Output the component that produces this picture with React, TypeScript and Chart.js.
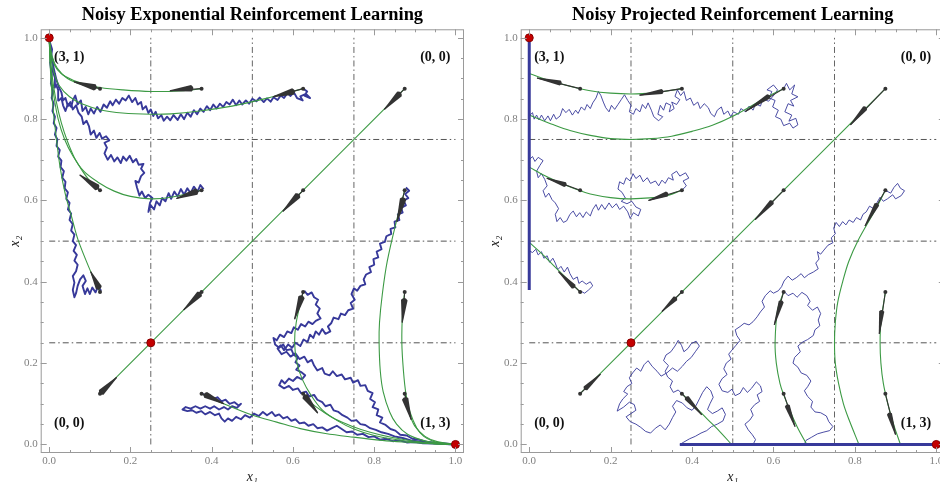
import { useEffect, useRef } from "react";
import { Chart, registerables } from "chart.js";

Chart.register(...registerables);

const FONT = "'Liberation Serif', 'Times New Roman', serif";
const BLUE = "#37399a";
const GREEN = "#3c9a44";
const DARK = "#333333";

// ---------- ticks ----------
const tickMajor = [0, 0.2, 0.4, 0.6, 0.8, 1.0];
const tickMinor = [0.05, 0.1, 0.15, 0.25, 0.3, 0.35, 0.45, 0.5, 0.55, 0.65, 0.7, 0.75, 0.85, 0.9, 0.95];
const guideLevels = [0.25, 0.5, 0.75];

// ---------- equilibria (red) ----------
const eqX = [0, 1, 0.25];
const eqY = [1, 0, 0.25];

// ---------- corner labels ----------
const cornerText = ["(3, 1)", "(0, 0)", "(0, 0)", "(1, 3)"];
const cornerX = [0.012, 0.913, 0.012, 0.913];
const cornerY = [0.953, 0.953, 0.052, 0.052];

// ---------- deterministic curves, left (exponential) ----------
const diag = [0.125, 0.125, 0.875, 0.875];
const gL1 = [0.375,0.875, 0.33,0.87, 0.25,0.868, 0.18,0.872, 0.125,0.878, 0.08,0.888, 0.04,0.905, 0.02,0.922, 0.008,0.945, 0.002,0.97, 0,1];
const gL2 = [0.625,0.875, 0.55,0.855, 0.45,0.832, 0.37,0.82, 0.3,0.813, 0.25,0.812, 0.18,0.815, 0.13,0.822, 0.08,0.838, 0.05,0.855, 0.025,0.882, 0.01,0.92, 0.003,0.96, 0,1];
const gL3 = [0.375,0.625, 0.3,0.608, 0.25,0.604, 0.2,0.61, 0.16,0.623, 0.12,0.645, 0.085,0.672, 0.058,0.71, 0.038,0.75, 0.022,0.8, 0.011,0.86, 0.004,0.92, 0,1];
const gL4 = [0.125,0.375, 0.1,0.43, 0.071,0.503, 0.055,0.56, 0.039,0.618, 0.027,0.68, 0.018,0.749, 0.01,0.82, 0.006,0.871, 0.002,0.94, 0,1];
const gL5 = [0.125,0.625, 0.1,0.648, 0.08,0.675, 0.062,0.705, 0.045,0.745, 0.03,0.79, 0.017,0.845, 0.008,0.9, 0.002,0.95, 0,1];
const gL6 = [0.125,0.875, 0.08,0.885, 0.045,0.9, 0.02,0.925, 0.007,0.955, 0,1];
const gL1m = [0.875,0.375, 0.87,0.33, 0.868,0.25, 0.872,0.18, 0.878,0.125, 0.888,0.08, 0.905,0.04, 0.922,0.02, 0.945,0.008, 0.97,0.002, 1,0];
const gL2m = [0.875,0.625, 0.855,0.55, 0.832,0.45, 0.82,0.37, 0.813,0.3, 0.812,0.25, 0.815,0.18, 0.822,0.13, 0.838,0.08, 0.855,0.05, 0.882,0.025, 0.92,0.01, 0.96,0.003, 1,0];
const gL3m = [0.625,0.375, 0.608,0.3, 0.604,0.25, 0.61,0.2, 0.623,0.16, 0.645,0.12, 0.672,0.085, 0.71,0.058, 0.75,0.038, 0.8,0.022, 0.86,0.011, 0.92,0.004, 1,0];
const gL4m = [0.375,0.125, 0.43,0.1, 0.503,0.071, 0.56,0.055, 0.618,0.039, 0.68,0.027, 0.749,0.018, 0.82,0.01, 0.871,0.006, 0.94,0.002, 1,0];
const gL5m = [0.625,0.125, 0.648,0.1, 0.675,0.08, 0.705,0.062, 0.745,0.045, 0.79,0.03, 0.845,0.017, 0.9,0.008, 0.95,0.002, 1,0];
const gL6m = [0.875,0.125, 0.885,0.08, 0.9,0.045, 0.925,0.02, 0.955,0.007, 1,0];

// ---------- deterministic curves, right (projected) ----------
const gR1 = [0.375,0.875, 0.3,0.864, 0.25,0.862, 0.2,0.864, 0.15,0.87, 0.1,0.881, 0.05,0.895, 0,0.912];
const gR2 = [0.625,0.875, 0.58,0.852, 0.5,0.807, 0.45,0.785, 0.4,0.77, 0.35,0.758, 0.3,0.752, 0.25,0.75, 0.2,0.752, 0.15,0.76, 0.1,0.772, 0.06,0.786, 0,0.81];
const gR3 = [0.375,0.625, 0.33,0.61, 0.25,0.604, 0.2,0.607, 0.15,0.616, 0.125,0.624, 0.08,0.642, 0.04,0.66, 0,0.682];
const gR4 = [0.125,0.375, 0.09,0.41, 0.06,0.44, 0.03,0.47, 0,0.497];
const gR1m = [0.875,0.375, 0.864,0.3, 0.862,0.25, 0.864,0.2, 0.87,0.15, 0.881,0.1, 0.895,0.05, 0.912,0];
const gR2m = [0.875,0.625, 0.852,0.58, 0.807,0.5, 0.785,0.45, 0.77,0.4, 0.758,0.35, 0.752,0.3, 0.75,0.25, 0.752,0.2, 0.76,0.15, 0.772,0.1, 0.786,0.06, 0.81,0];
const gR3m = [0.625,0.375, 0.61,0.33, 0.604,0.25, 0.607,0.2, 0.616,0.15, 0.624,0.125, 0.642,0.08, 0.66,0.04, 0.682,0];
const gR4m = [0.375,0.125, 0.41,0.09, 0.44,0.06, 0.47,0.03, 0.497,0];

// boundary segments (projected dynamics)
const edgeLeft = [0, 0.38, 0, 1];
const edgeBottom = [0.37, 0, 1, 0];

// ---------- noisy paths, left ----------
const nLA = [0.625,0.875, 0.635,0.868, 0.628,0.858, 0.642,0.852, 0.632,0.862, 0.618,0.856, 0.624,0.846, 0.61,0.852, 0.602,0.866, 0.594,0.857, 0.586,0.864, 0.578,0.852, 0.57,0.858, 0.562,0.847, 0.552,0.854, 0.545,0.843, 0.536,0.851, 0.528,0.842, 0.518,0.853, 0.51,0.844, 0.5,0.85, 0.492,0.838, 0.484,0.846, 0.475,0.836, 0.468,0.846, 0.46,0.834, 0.452,0.848, 0.444,0.836, 0.436,0.842, 0.428,0.83, 0.42,0.838, 0.412,0.826, 0.404,0.836, 0.396,0.822, 0.388,0.832, 0.38,0.818, 0.372,0.826, 0.364,0.812, 0.356,0.822, 0.348,0.806, 0.34,0.816, 0.332,0.8, 0.324,0.812, 0.316,0.798, 0.306,0.81, 0.298,0.797, 0.29,0.806, 0.282,0.796, 0.276,0.81, 0.268,0.802, 0.262,0.818, 0.256,0.808, 0.25,0.824, 0.244,0.815, 0.238,0.832, 0.23,0.824, 0.226,0.842, 0.218,0.836, 0.212,0.852, 0.204,0.842, 0.196,0.858, 0.188,0.846, 0.18,0.852, 0.172,0.838, 0.164,0.848, 0.156,0.834, 0.15,0.844, 0.142,0.828, 0.134,0.836, 0.126,0.818, 0.118,0.83, 0.11,0.814, 0.102,0.826, 0.096,0.812, 0.09,0.83, 0.082,0.82, 0.078,0.846, 0.07,0.836, 0.064,0.858, 0.058,0.846, 0.054,0.83, 0.046,0.838, 0.04,0.82, 0.034,0.834, 0.03,0.852, 0.024,0.846, 0.022,0.872, 0.016,0.886, 0.012,0.878, 0.014,0.902, 0.008,0.92, 0.011,0.938, 0.005,0.955, 0.007,0.972, 0.002,0.988, 0,1];
const nLB = [0.38,0.628, 0.372,0.638, 0.365,0.622, 0.356,0.634, 0.348,0.618, 0.34,0.63, 0.332,0.614, 0.324,0.628, 0.316,0.61, 0.308,0.622, 0.3,0.604, 0.294,0.618, 0.286,0.598, 0.278,0.606, 0.272,0.588, 0.264,0.598, 0.258,0.578, 0.25,0.588, 0.244,0.572, 0.248,0.594, 0.254,0.606, 0.244,0.614, 0.236,0.606, 0.228,0.622, 0.222,0.612, 0.216,0.632, 0.212,0.648, 0.22,0.644, 0.226,0.66, 0.234,0.668, 0.226,0.678, 0.232,0.69, 0.22,0.688, 0.214,0.702, 0.206,0.694, 0.198,0.71, 0.19,0.698, 0.182,0.708, 0.176,0.692, 0.168,0.706, 0.16,0.696, 0.152,0.712, 0.144,0.7, 0.136,0.716, 0.142,0.73, 0.136,0.742, 0.148,0.748, 0.14,0.758, 0.13,0.752, 0.124,0.766, 0.116,0.754, 0.11,0.772, 0.102,0.762, 0.098,0.782, 0.092,0.796, 0.084,0.788, 0.08,0.806, 0.072,0.816, 0.066,0.834, 0.058,0.824, 0.052,0.842, 0.046,0.832, 0.04,0.852, 0.034,0.846, 0.03,0.866, 0.024,0.878, 0.018,0.896, 0.014,0.912, 0.01,0.93, 0.006,0.948, 0.003,0.972, 0,1];
const nLC = [0.128,0.378, 0.12,0.388, 0.114,0.374, 0.106,0.386, 0.1,0.37, 0.094,0.384, 0.088,0.37, 0.082,0.39, 0.09,0.402, 0.084,0.416, 0.076,0.406, 0.07,0.39, 0.066,0.372, 0.062,0.362, 0.058,0.38, 0.062,0.398, 0.058,0.414, 0.066,0.426, 0.07,0.442, 0.062,0.452, 0.068,0.466, 0.06,0.476, 0.066,0.49, 0.058,0.5, 0.062,0.516, 0.054,0.526, 0.058,0.542, 0.05,0.552, 0.054,0.568, 0.046,0.578, 0.05,0.594, 0.042,0.604, 0.046,0.62, 0.038,0.63, 0.04,0.646, 0.032,0.656, 0.036,0.672, 0.028,0.682, 0.03,0.698, 0.022,0.708, 0.026,0.724, 0.018,0.734, 0.02,0.75, 0.014,0.762, 0.018,0.778, 0.011,0.79, 0.014,0.806, 0.008,0.82, 0.011,0.838, 0.006,0.852, 0.009,0.87, 0.004,0.888, 0.006,0.91, 0.002,0.94, 0.003,0.97, 0,1];
const nLD = [0.878,0.632, 0.886,0.624, 0.876,0.616, 0.884,0.606, 0.872,0.6, 0.878,0.588, 0.866,0.582, 0.87,0.57, 0.858,0.566, 0.862,0.552, 0.85,0.548, 0.852,0.534, 0.84,0.53, 0.842,0.518, 0.83,0.512, 0.826,0.498, 0.814,0.494, 0.818,0.48, 0.806,0.474, 0.81,0.46, 0.798,0.456, 0.8,0.442, 0.788,0.436, 0.792,0.424, 0.78,0.418, 0.774,0.406, 0.778,0.394, 0.766,0.39, 0.758,0.378, 0.75,0.384, 0.744,0.37, 0.752,0.356, 0.742,0.348, 0.748,0.334, 0.736,0.33, 0.728,0.318, 0.718,0.322, 0.712,0.308, 0.7,0.312, 0.694,0.298, 0.686,0.29, 0.692,0.278, 0.68,0.272, 0.672,0.284, 0.664,0.27, 0.656,0.278, 0.65,0.262, 0.642,0.27, 0.636,0.252, 0.626,0.258, 0.618,0.242, 0.606,0.25, 0.598,0.238, 0.588,0.246, 0.578,0.232, 0.57,0.244, 0.562,0.236, 0.572,0.222, 0.584,0.228, 0.594,0.216, 0.606,0.224, 0.616,0.21, 0.628,0.216, 0.636,0.202, 0.646,0.208, 0.652,0.194, 0.66,0.182, 0.672,0.188, 0.678,0.174, 0.69,0.17, 0.698,0.18, 0.708,0.168, 0.72,0.172, 0.728,0.16, 0.742,0.164, 0.748,0.152, 0.76,0.158, 0.766,0.144, 0.778,0.146, 0.784,0.132, 0.796,0.126, 0.79,0.112, 0.802,0.104, 0.796,0.092, 0.81,0.086, 0.806,0.072, 0.82,0.066, 0.814,0.054, 0.828,0.048, 0.84,0.038, 0.852,0.034, 0.864,0.024, 0.88,0.022, 0.894,0.014, 0.91,0.012, 0.93,0.006, 0.955,0.004, 0.98,0.002, 1,0];
const nLE = [0.628,0.378, 0.636,0.368, 0.646,0.374, 0.652,0.362, 0.662,0.356, 0.656,0.344, 0.666,0.334, 0.66,0.322, 0.668,0.31, 0.656,0.304, 0.648,0.296, 0.638,0.302, 0.63,0.29, 0.62,0.296, 0.612,0.282, 0.602,0.288, 0.596,0.274, 0.586,0.278, 0.578,0.264, 0.568,0.27, 0.56,0.256, 0.552,0.262, 0.556,0.246, 0.566,0.238, 0.576,0.246, 0.584,0.232, 0.596,0.234, 0.602,0.22, 0.612,0.214, 0.606,0.202, 0.616,0.194, 0.608,0.184, 0.62,0.178, 0.63,0.17, 0.622,0.16, 0.61,0.166, 0.6,0.156, 0.59,0.162, 0.58,0.15, 0.572,0.158, 0.566,0.146, 0.578,0.138, 0.59,0.144, 0.6,0.134, 0.612,0.138, 0.62,0.126, 0.632,0.13, 0.64,0.118, 0.652,0.122, 0.66,0.11, 0.672,0.104, 0.68,0.094, 0.692,0.098, 0.7,0.084, 0.712,0.08, 0.722,0.072, 0.734,0.066, 0.744,0.058, 0.756,0.06, 0.766,0.05, 0.778,0.048, 0.79,0.04, 0.804,0.036, 0.818,0.03, 0.834,0.026, 0.85,0.02, 0.87,0.016, 0.89,0.01, 0.92,0.006, 0.95,0.003, 1,0];
const nLF = [0.378,0.125, 0.386,0.118, 0.394,0.122, 0.404,0.112, 0.414,0.116, 0.424,0.106, 0.434,0.11, 0.444,0.1, 0.456,0.104, 0.466,0.096, 0.472,0.1, 0.462,0.09, 0.45,0.094, 0.44,0.086, 0.43,0.092, 0.418,0.086, 0.406,0.094, 0.396,0.088, 0.384,0.094, 0.372,0.088, 0.36,0.094, 0.348,0.088, 0.336,0.092, 0.328,0.086, 0.34,0.082, 0.352,0.084, 0.362,0.078, 0.374,0.082, 0.384,0.074, 0.396,0.08, 0.408,0.072, 0.418,0.076, 0.424,0.064, 0.432,0.056, 0.44,0.064, 0.45,0.058, 0.46,0.068, 0.472,0.062, 0.482,0.072, 0.494,0.066, 0.504,0.076, 0.516,0.07, 0.526,0.08, 0.536,0.072, 0.548,0.08, 0.556,0.07, 0.566,0.074, 0.576,0.064, 0.586,0.068, 0.596,0.058, 0.606,0.062, 0.616,0.052, 0.628,0.054, 0.638,0.046, 0.65,0.05, 0.66,0.04, 0.672,0.042, 0.684,0.034, 0.696,0.04, 0.708,0.046, 0.72,0.038, 0.732,0.03, 0.746,0.032, 0.758,0.024, 0.772,0.026, 0.786,0.018, 0.8,0.02, 0.814,0.012, 0.83,0.014, 0.846,0.008, 0.862,0.01, 0.88,0.005, 0.9,0.006, 0.92,0.003, 0.95,0.002, 0.975,0.001, 1,0];

// ---------- noisy paths, right ----------
const nRA = [0.625,0.875, 0.632,0.888, 0.64,0.872, 0.652,0.884, 0.645,0.862, 0.66,0.855, 0.642,0.846, 0.65,0.832, 0.636,0.838, 0.628,0.818, 0.645,0.81, 0.638,0.795, 0.655,0.802, 0.66,0.786, 0.648,0.778, 0.64,0.79, 0.625,0.784, 0.618,0.8, 0.605,0.806, 0.612,0.822, 0.598,0.83, 0.604,0.846, 0.59,0.852, 0.596,0.868, 0.584,0.872, 0.6,0.884, 0.61,0.872, 0.602,0.86, 0.588,0.844, 0.574,0.85, 0.568,0.832, 0.556,0.838, 0.55,0.822, 0.54,0.832, 0.532,0.818, 0.52,0.826, 0.514,0.812, 0.502,0.818, 0.495,0.806, 0.488,0.82, 0.478,0.812, 0.472,0.83, 0.462,0.822, 0.455,0.806, 0.446,0.814, 0.44,0.828, 0.43,0.838, 0.42,0.826, 0.414,0.842, 0.404,0.834, 0.396,0.852, 0.386,0.846, 0.38,0.868, 0.372,0.858, 0.364,0.872, 0.358,0.856, 0.37,0.848, 0.362,0.836, 0.35,0.842, 0.356,0.826, 0.344,0.818, 0.348,0.834, 0.336,0.84, 0.33,0.822, 0.322,0.834, 0.316,0.812, 0.328,0.806, 0.318,0.796, 0.306,0.806, 0.3,0.822, 0.292,0.84, 0.286,0.826, 0.278,0.836, 0.272,0.818, 0.262,0.826, 0.256,0.812, 0.246,0.818, 0.25,0.834, 0.242,0.846, 0.234,0.86, 0.226,0.848, 0.218,0.836, 0.21,0.824, 0.202,0.834, 0.196,0.818, 0.188,0.828, 0.182,0.842, 0.176,0.858, 0.17,0.868, 0.164,0.852, 0.156,0.84, 0.15,0.826, 0.142,0.836, 0.136,0.822, 0.128,0.83, 0.12,0.814, 0.114,0.822, 0.106,0.81, 0.098,0.824, 0.09,0.816, 0.082,0.826, 0.076,0.808, 0.066,0.8, 0.06,0.812, 0.052,0.796, 0.046,0.808, 0.038,0.796, 0.03,0.81, 0.024,0.798, 0.018,0.81, 0.012,0.8, 0.008,0.816, 0,0.808];
const nRB = [0.375,0.625, 0.386,0.636, 0.378,0.648, 0.392,0.655, 0.384,0.668, 0.37,0.66, 0.362,0.672, 0.35,0.664, 0.354,0.65, 0.342,0.656, 0.334,0.642, 0.326,0.65, 0.318,0.636, 0.31,0.648, 0.298,0.642, 0.29,0.656, 0.28,0.646, 0.272,0.662, 0.262,0.654, 0.255,0.666, 0.248,0.648, 0.238,0.656, 0.232,0.64, 0.222,0.646, 0.218,0.628, 0.228,0.62, 0.236,0.606, 0.226,0.598, 0.24,0.592, 0.252,0.598, 0.262,0.584, 0.274,0.578, 0.268,0.562, 0.256,0.57, 0.248,0.556, 0.242,0.572, 0.232,0.586, 0.222,0.578, 0.214,0.592, 0.204,0.582, 0.196,0.594, 0.186,0.578, 0.178,0.59, 0.17,0.576, 0.164,0.59, 0.156,0.578, 0.15,0.562, 0.14,0.572, 0.132,0.558, 0.124,0.57, 0.116,0.56, 0.108,0.574, 0.1,0.566, 0.092,0.55, 0.084,0.546, 0.076,0.558, 0.068,0.548, 0.064,0.566, 0.072,0.58, 0.064,0.594, 0.056,0.602, 0.048,0.618, 0.04,0.608, 0.034,0.624, 0.044,0.636, 0.038,0.652, 0.03,0.666, 0.022,0.656, 0.018,0.672, 0.026,0.686, 0.034,0.698, 0.022,0.706, 0.014,0.696, 0.008,0.708, 0,0.7];
const nRC = [0.125,0.378, 0.136,0.372, 0.146,0.38, 0.156,0.39, 0.15,0.4, 0.14,0.394, 0.13,0.402, 0.122,0.396, 0.118,0.412, 0.108,0.406, 0.1,0.42, 0.094,0.436, 0.086,0.424, 0.078,0.438, 0.07,0.43, 0.064,0.446, 0.058,0.458, 0.05,0.448, 0.044,0.464, 0.036,0.458, 0.03,0.474, 0.022,0.466, 0.016,0.48, 0.008,0.472, 0,0.476];
const nRD = [0.875,0.625, 0.888,0.618, 0.896,0.632, 0.905,0.642, 0.912,0.63, 0.922,0.624, 0.914,0.612, 0.9,0.604, 0.893,0.614, 0.88,0.604, 0.87,0.598, 0.862,0.608, 0.854,0.594, 0.846,0.58, 0.836,0.586, 0.828,0.572, 0.82,0.566, 0.814,0.552, 0.804,0.558, 0.796,0.546, 0.786,0.552, 0.778,0.54, 0.77,0.548, 0.762,0.536, 0.754,0.546, 0.748,0.532, 0.752,0.518, 0.742,0.508, 0.746,0.496, 0.734,0.49, 0.724,0.478, 0.716,0.468, 0.708,0.474, 0.712,0.456, 0.704,0.446, 0.71,0.432, 0.698,0.424, 0.686,0.418, 0.676,0.41, 0.668,0.42, 0.656,0.41, 0.646,0.404, 0.636,0.414, 0.626,0.402, 0.62,0.388, 0.612,0.378, 0.6,0.372, 0.592,0.378, 0.58,0.366, 0.572,0.352, 0.578,0.338, 0.568,0.326, 0.56,0.314, 0.55,0.302, 0.54,0.294, 0.528,0.298, 0.518,0.29, 0.506,0.282, 0.51,0.268, 0.518,0.256, 0.508,0.244, 0.498,0.232, 0.49,0.222, 0.496,0.21, 0.484,0.2, 0.478,0.186, 0.486,0.172, 0.474,0.162, 0.466,0.148, 0.474,0.132, 0.488,0.128, 0.498,0.136, 0.506,0.12, 0.518,0.126, 0.526,0.14, 0.536,0.128, 0.546,0.138, 0.558,0.154, 0.568,0.144, 0.572,0.13, 0.56,0.122, 0.566,0.106, 0.554,0.098, 0.544,0.086, 0.55,0.072, 0.542,0.06, 0.53,0.05, 0.538,0.036, 0.548,0.024, 0.556,0.012, 0.55,0];
const nRE = [0.625,0.378, 0.636,0.366, 0.648,0.372, 0.658,0.362, 0.67,0.374, 0.682,0.366, 0.69,0.352, 0.684,0.342, 0.696,0.33, 0.708,0.338, 0.716,0.322, 0.71,0.306, 0.714,0.292, 0.702,0.282, 0.698,0.268, 0.684,0.258, 0.672,0.252, 0.66,0.242, 0.666,0.228, 0.652,0.214, 0.648,0.2, 0.66,0.19, 0.668,0.176, 0.682,0.17, 0.692,0.156, 0.684,0.142, 0.676,0.132, 0.684,0.118, 0.696,0.106, 0.692,0.092, 0.702,0.08, 0.716,0.078, 0.73,0.07, 0.736,0.056, 0.746,0.044, 0.738,0.034, 0.722,0.03, 0.708,0.026, 0.694,0.018, 0.68,0.01, 0.676,0];
const nRF = [0.375,0.125, 0.366,0.134, 0.354,0.128, 0.346,0.142, 0.352,0.156, 0.34,0.166, 0.334,0.18, 0.342,0.194, 0.33,0.206, 0.336,0.22, 0.348,0.228, 0.358,0.242, 0.366,0.256, 0.374,0.244, 0.38,0.228, 0.39,0.236, 0.398,0.248, 0.41,0.254, 0.418,0.242, 0.408,0.228, 0.398,0.214, 0.386,0.204, 0.376,0.192, 0.364,0.18, 0.352,0.188, 0.338,0.176, 0.324,0.168, 0.314,0.18, 0.302,0.192, 0.292,0.206, 0.282,0.196, 0.274,0.18, 0.264,0.188, 0.254,0.176, 0.246,0.164, 0.252,0.15, 0.24,0.142, 0.232,0.13, 0.242,0.124, 0.23,0.112, 0.222,0.1, 0.216,0.082, 0.232,0.092, 0.246,0.104, 0.258,0.098, 0.262,0.084, 0.25,0.076, 0.238,0.068, 0.248,0.056, 0.262,0.05, 0.274,0.042, 0.286,0.032, 0.298,0.028, 0.31,0.04, 0.322,0.048, 0.334,0.036, 0.344,0.05, 0.352,0.066, 0.36,0.08, 0.352,0.094, 0.362,0.108, 0.376,0.102, 0.388,0.09, 0.4,0.084, 0.41,0.096, 0.418,0.112, 0.426,0.128, 0.436,0.142, 0.446,0.132, 0.452,0.116, 0.444,0.1, 0.438,0.086, 0.45,0.076, 0.462,0.082, 0.474,0.09, 0.482,0.074, 0.476,0.058, 0.462,0.05, 0.448,0.044, 0.436,0.034, 0.422,0.028, 0.408,0.02, 0.394,0.014, 0.38,0.006, 0.37,0];

// ---------- direction wedges: start, base, tip ----------
const arrowsL = [
  [0.125,0.875, 0.112,0.878, 0.061,0.892],
  [0.375,0.875, 0.35,0.876, 0.297,0.87],
  [0.625,0.875, 0.6,0.868, 0.551,0.855],
  [0.875,0.875, 0.862,0.862, 0.825,0.824],
  [0.125,0.625, 0.118,0.632, 0.075,0.663],
  [0.375,0.625, 0.362,0.622, 0.313,0.605],
  [0.625,0.625, 0.612,0.612, 0.575,0.573],
  [0.875,0.625, 0.871,0.603, 0.856,0.548],
  [0.125,0.375, 0.122,0.386, 0.102,0.425],
  [0.375,0.375, 0.37,0.37, 0.331,0.331],
  [0.625,0.375, 0.621,0.362, 0.604,0.308],
  [0.875,0.375, 0.874,0.355, 0.869,0.3],
  [0.125,0.125, 0.128,0.128, 0.166,0.165],
  [0.375,0.125, 0.385,0.122, 0.43,0.1],
  [0.625,0.125, 0.63,0.118, 0.661,0.077],
  [0.875,0.125, 0.876,0.112, 0.891,0.061],
];
const arrowsR = [
  [0.125,0.875, 0.076,0.889, 0.019,0.901],
  [0.375,0.875, 0.326,0.868, 0.271,0.859],
  [0.625,0.875, 0.588,0.856, 0.531,0.819],
  [0.875,0.875, 0.825,0.827, 0.789,0.786],
  [0.125,0.625, 0.088,0.639, 0.043,0.655],
  [0.375,0.625, 0.338,0.616, 0.293,0.6],
  [0.625,0.625, 0.596,0.596, 0.555,0.553],
  [0.875,0.625, 0.854,0.59, 0.825,0.537],
  [0.125,0.375, 0.109,0.388, 0.072,0.425],
  [0.375,0.375, 0.359,0.359, 0.326,0.327],
  [0.625,0.375, 0.619,0.351, 0.602,0.294],
  [0.875,0.375, 0.866,0.327, 0.86,0.272],
  [0.125,0.125, 0.138,0.138, 0.175,0.173],
  [0.375,0.125, 0.387,0.114, 0.424,0.073],
  [0.625,0.125, 0.634,0.095, 0.653,0.044],
  [0.875,0.125, 0.885,0.075, 0.9,0.024],
];

function pts(a: number[]) {
  const r: { x: number; y: number }[] = [];
  for (let i = 0; i < a.length; i += 2) r.push({ x: a[i], y: a[i + 1] });
  return r;
}

function lineDs(a: number[], color: string, width: number, tension = 0, dash: number[] = []) {
  return {
    data: pts(a),
    showLine: true,
    borderColor: color,
    backgroundColor: color,
    borderWidth: width,
    pointRadius: 0,
    tension,
    borderDash: dash,
    borderJoinStyle: "round" as const,
    fill: false,
  };
}

const decorPlugin = {
  id: "decor",
  beforeDraw(chart: any) {
    const { ctx, width, height } = chart;
    ctx.save();
    ctx.fillStyle = "#ffffff";
    ctx.fillRect(0, 0, width, height);
    ctx.restore();
  },
  afterDatasetsDraw(chart: any, _a: any, opts: any) {
    const { ctx } = chart;
    const xs = chart.scales.x;
    const ys = chart.scales.y;
    ctx.save();
    for (const a of opts.arrows as number[][]) {
      const sx = xs.getPixelForValue(a[0]), sy = ys.getPixelForValue(a[1]);
      const bx = xs.getPixelForValue(a[2]), by = ys.getPixelForValue(a[3]);
      const tx = xs.getPixelForValue(a[4]), ty = ys.getPixelForValue(a[5]);
      ctx.strokeStyle = DARK;
      ctx.fillStyle = DARK;
      ctx.lineWidth = 1.1;
      ctx.beginPath();
      ctx.moveTo(sx, sy);
      ctx.lineTo(tx, ty);
      ctx.stroke();
      const dx = tx - bx, dy = ty - by;
      const len = Math.hypot(dx, dy) || 1;
      const ux = dx / len, uy = dy / len;
      const nx = -uy, ny = ux;
      const hw = opts.halfWidth;
      ctx.beginPath();
      ctx.moveTo(bx + nx * hw, by + ny * hw);
      ctx.lineTo(tx + nx * 0.5, ty + ny * 0.5);
      ctx.lineTo(tx - nx * 0.5, ty - ny * 0.5);
      ctx.lineTo(bx - nx * hw, by - ny * hw);
      ctx.quadraticCurveTo(bx - ux * hw * 1.2, by - uy * hw * 1.2, bx + nx * hw, by + ny * hw);
      ctx.closePath();
      ctx.fill();
      ctx.beginPath();
      ctx.arc(sx, sy, 2, 0, Math.PI * 2);
      ctx.fill();
    }
    ctx.fillStyle = "#111";
    ctx.font = `bold 14px ${FONT}`;
    ctx.textAlign = "left";
    ctx.textBaseline = "middle";
    cornerText.forEach((t, i) => {
      ctx.fillText(t, xs.getPixelForValue(cornerX[i]), ys.getPixelForValue(cornerY[i]));
    });
    ctx.restore();
  },
  afterDraw(chart: any) {
    const { ctx, chartArea } = chart;
    const { left, right, top, bottom } = chartArea;
    const xs = chart.scales.x;
    const ys = chart.scales.y;
    ctx.save();
    ctx.strokeStyle = "#9a9a9a";
    ctx.lineWidth = 1;
    ctx.strokeRect(left + 0.5, top + 0.5, right - left - 1, bottom - top - 1);
    const drawTicks = (vals: number[], len: number) => {
      ctx.beginPath();
      for (const v of vals) {
        const px = Math.round(xs.getPixelForValue(v)) + 0.5;
        ctx.moveTo(px, bottom); ctx.lineTo(px, bottom - len);
        ctx.moveTo(px, top); ctx.lineTo(px, top + len);
        const py = Math.round(ys.getPixelForValue(v)) + 0.5;
        ctx.moveTo(left, py); ctx.lineTo(left + len, py);
        ctx.moveTo(right, py); ctx.lineTo(right - len, py);
      }
      ctx.stroke();
    };
    drawTicks(tickMajor, 6);
    drawTicks(tickMinor, 3);
    ctx.restore();
  },
};

function buildDatasets(kind: "L" | "R") {
  const ds: any[] = [];
  ds.push({
    data: eqX.map((x, i) => ({ x, y: eqY[i] })),
    pointRadius: 4,
    pointBackgroundColor: "#c40000",
    pointBorderColor: "#8a0000",
    pointBorderWidth: 1,
    showLine: false,
  });
  if (kind === "R") {
    ds.push(lineDs(edgeLeft, BLUE, 3));
    ds.push(lineDs(edgeBottom, BLUE, 3));
  }
  const greens = kind === "L"
    ? [diag, gL1, gL2, gL3, gL4, gL5, gL6, gL1m, gL2m, gL3m, gL4m, gL5m, gL6m]
    : [diag, gR1, gR2, gR3, gR4, gR1m, gR2m, gR3m, gR4m];
  for (const g of greens) ds.push(lineDs(g, GREEN, 1.1, 0.35));
  const noise = kind === "L" ? [nLA, nLB, nLC, nLD, nLE, nLF] : [nRA, nRB, nRC, nRD, nRE, nRF];
  for (const n of noise) ds.push(lineDs(n, BLUE, kind === "L" ? 1.9 : 0.9));
  for (const g of guideLevels) {
    ds.push(lineDs([g, 0, g, 1], "#666", 1, 0, [6, 3, 1.5, 3]));
    ds.push(lineDs([0, g, 1, g], "#555", 1, 0, [6, 3, 1.5, 3]));
  }
  return ds;
}

function makeConfig(kind: "L" | "R", title: string) {
  return {
    type: "scatter" as const,
    data: { datasets: buildDatasets(kind) },
    plugins: [decorPlugin],
    options: {
      animation: false as const,
      responsive: false,
      events: [],
      layout: { padding: kind === "L" ? { left: 0, right: 6, top: 0, bottom: 0 } : { left: 10, right: 5.2, top: 0, bottom: 0 } },
      plugins: {
        legend: { display: false },
        tooltip: { enabled: false },
        title: {
          display: true,
          text: title,
          fullSize: false,
          color: "#000",
          font: { family: FONT, size: 18.4, weight: "bold" as const, lineHeight: 1.2 },
          padding: { top: 4.3, bottom: 2.9 },
        },
        decor: { arrows: kind === "L" ? arrowsL : arrowsR, halfWidth: kind === "L" ? 3.3 : 2.6 },
      },
      scales: {
        x: {
          type: "linear" as const,
          min: -0.021,
          max: 1.021,
          grid: { display: false, drawTicks: false },
          border: { display: false },
          ticks: {
            stepSize: 0.2,
            includeBounds: false,
            padding: 2,
            color: "#808080",
            font: { family: FONT, size: 11 },
            maxRotation: 0,
            autoSkip: false,
            callback: (v: any) => Number(v).toFixed(1),
          },
          title: {
            display: true,
            text: "x₁",
            color: "#222",
            font: { family: FONT, size: 14, style: "italic" as const, lineHeight: 1 },
            padding: { top: 0, bottom: -2 },
          },
          afterFit: (s: any) => { s.height = 29; },
        },
        y: {
          type: "linear" as const,
          min: -0.021,
          max: 1.021,
          grid: { display: false, drawTicks: false },
          border: { display: false },
          ticks: {
            stepSize: 0.2,
            includeBounds: false,
            padding: 3,
            color: "#808080",
            font: { family: FONT, size: 11 },
            autoSkip: false,
            callback: (v: any) => Number(v).toFixed(1),
          },
          title: {
            display: true,
            text: "x₂",
            color: "#222",
            font: { family: FONT, size: 14, style: "italic" as const, lineHeight: 1 },
            padding: { top: 8, bottom: 0 },
          },
          afterFit: (s: any) => { s.width = 40.7; },
        },
      },
    },
  };
}

function Panel({ kind, title, left, width }: { kind: "L" | "R"; title: string; left: number; width: number }) {
  const ref = useRef<HTMLCanvasElement | null>(null);
  useEffect(() => {
    if (!ref.current) return;
    const chart = new Chart(ref.current, makeConfig(kind, title) as any);
    return () => chart.destroy();
  }, [kind, title]);
  return (
    <canvas
      ref={ref}
      width={width}
      height={482}
      style={{ position: "absolute", left, top: 0, width, height: 482 }}
    />
  );
}

export default function App() {
  return (
    <div style={{ position: "fixed", left: 0, top: 0, width: 940, height: 482, overflow: "hidden", background: "#fff" }}>
      <Panel kind="L" title="Noisy Exponential Reinforcement Learning" left={0} width={470} />
      <Panel kind="R" title="Noisy Projected Reinforcement Learning" left={470} width={480} />
    </div>
  );
}
